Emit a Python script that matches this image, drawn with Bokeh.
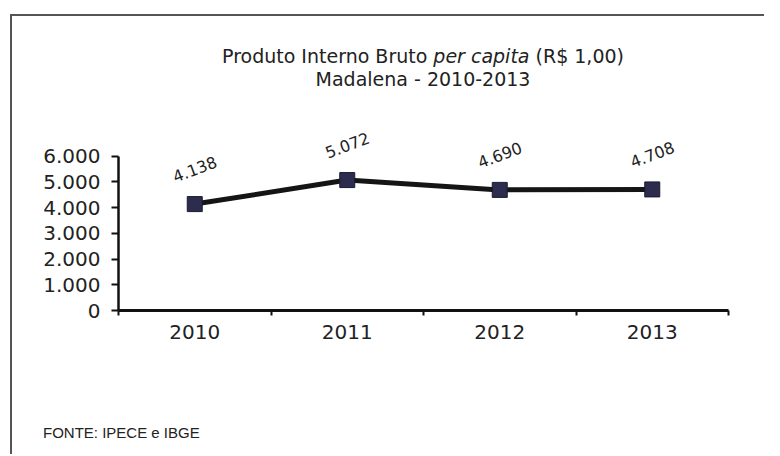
from bokeh.plotting import figure
from bokeh.layouts import column
from bokeh.core.properties import value
from bokeh.models import (FactorRange, Range1d, LinearAxis, CategoricalAxis, FixedTicker,
                          CustomJSTickFormatter, ColumnDataSource, LabelSet, Div)
from bokeh.embed import file_html
from bokeh.resources import INLINE

years = ["2010", "2011", "2012", "2013"]
pib_per_capita = [4138, 5072, 4690, 4708]
y_ticks = [0, 1000, 2000, 3000, 4000, 5000, 6000]
title_main = "Produto Interno Bruto"
title_italic = "per capita"
title_unit = "(R$ 1,00)"
subtitle = "Madalena - 2010-2013"
source_note = "FONTE: IPECE e IBGE"

labels = [f"{v:,}".replace(",", ".") for v in pib_per_capita]
src = ColumnDataSource(dict(x=years, y=pib_per_capita, lab=labels))

TXT = "#222222"

p = figure(x_range=FactorRange(factors=years), y_range=Range1d(0, 7000),
           frame_width=610, frame_height=180,
           min_border_left=106, min_border_right=36, min_border_top=39, min_border_bottom=100,
           x_axis_location=None, y_axis_location=None,
           output_backend="svg", toolbar_location=None, tools="")
p.grid.visible = False
p.outline_line_color = None
p.background_fill_color = "white"
p.border_fill_color = "white"

# y axis (line limited to 0..6000)
yax = LinearAxis(ticker=FixedTicker(ticks=y_ticks), bounds=(y_ticks[0], y_ticks[-1]),
                 formatter=CustomJSTickFormatter(code="return tick.toFixed(0).replace(/\\B(?=(\\d{3})+(?!\\d))/g, '.');"))
yax.axis_line_width = 2.5
yax.axis_line_color = "#111111"
yax.major_tick_line_width = 2
yax.major_tick_line_color = "#111111"
yax.major_tick_out = 7
yax.major_tick_in = 0
yax.minor_tick_line_color = None
yax.major_label_standoff = 11
yax.major_label_text_font = "DejaVu Sans"
yax.major_label_text_font_size = "20px"
yax.major_label_text_color = TXT
p.add_layout(yax, "left")

# x axis line with ticks at category boundaries
bounds = list(range(len(years) + 1))
xline = LinearAxis(ticker=FixedTicker(ticks=bounds))
xline.major_label_overrides = {b: "" for b in bounds}
xline.axis_line_width = 3
xline.axis_line_color = "#111111"
xline.major_tick_line_width = 2
xline.major_tick_line_color = "#111111"
xline.major_tick_out = 5
xline.major_tick_in = 0
xline.minor_tick_line_color = None
xline.major_label_standoff = 0
xline.major_label_text_font_size = "1px"
p.add_layout(xline, "below")

xcat = CategoricalAxis()
xcat.axis_line_color = None
xcat.major_tick_line_color = None
xcat.minor_tick_line_color = None
xcat.major_label_standoff = 3
xcat.major_label_text_font = "DejaVu Sans"
xcat.major_label_text_font_size = "20px"
xcat.major_label_text_color = TXT
p.add_layout(xcat, "below")

# series
p.line("x", "y", source=src, line_width=5, line_color="#151515")
p.scatter("x", "y", source=src, marker="square", size=15,
          fill_color="#2c2c4e", line_color="#1b1b2e", line_width=1)

p.add_layout(LabelSet(x="x", y="y", text="lab", source=src, y_offset=35, angle=0.36,
                      text_align="center", text_baseline="middle",
                      text_font=value("DejaVu Sans"), text_font_size=value("16px"),
                      text_color=TXT))

title_div = Div(text=f"{title_main} <i>{title_italic}</i> {title_unit}<br>{subtitle}",
                width=610, height=46, margin=(29, 0, 0, 106),
                styles={"text-align": "center", "font-family": "DejaVu Sans",
                        "font-size": "19px", "line-height": "23px", "color": TXT})
source_div = Div(text=source_note, width=300, height=30, margin=(14, 0, 0, 31),
                 styles={"font-family": "Liberation Sans", "font-size": "15px",
                         "line-height": "18px", "color": TXT})

box = column(title_div, p, source_div, margin=(14, 0, 0, 10),
             styles={"border-top": "2px solid #555555", "border-left": "2px solid #555555"})
root = column(box)

open("out.html", "w").write(file_html(root, INLINE))
